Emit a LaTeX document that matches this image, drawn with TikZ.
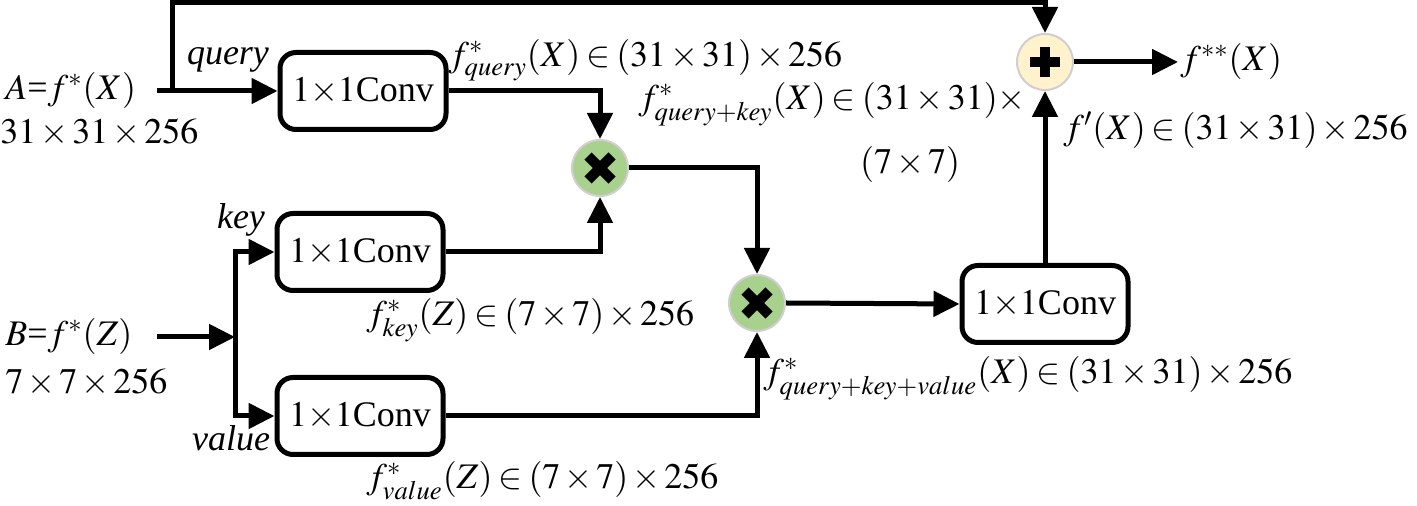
\documentclass[tikz,border=0pt]{standalone}
\usepackage{mathptmx}
\usepackage[no-math]{fontspec}
\setmainfont{Liberation Serif}
\usetikzlibrary{arrows.meta}

\definecolor{mulgreen}{RGB}{169,209,142}
\definecolor{addyellow}{RGB}{255,242,204}
\definecolor{ringgray}{RGB}{208,206,206}

\medmuskip=2mu
\thickmuskip=3mu

\tikzset{
  conv/.style={draw, line width=2.5pt, rounded corners=8pt, minimum width=83pt, minimum height=38.5pt, inner sep=0pt},
  opnode/.style={circle, draw=ringgray, line width=1pt, minimum size=28pt, inner sep=0pt},
  link/.style={line width=2.5pt},
  arr/.style={link, -{Triangle[length=13pt,width=12.5pt]}},
  sign/.style={line width=5pt},
  txt/.style={inner sep=0pt, font=\fontsize{18}{22}\selectfont}
}

\begin{document}
\begin{tikzpicture}[x=0.5pt,y=0.5pt,yscale=-1,xscale=1]
\useasboundingbox (0,0) rectangle (1417,506);

%Conv boxes
\node [conv, txt] (convq) at (363,91) {$1{\times}1$Conv};
\node [conv, txt] (convk) at (360,252) {$1{\times}1$Conv};
\node [conv, txt] (convv) at (360,416) {$1{\times}1$Conv};
\node [conv, txt] (convo) at (1045,304) {$1{\times}1$Conv};

%Operators
\node [opnode, fill=mulgreen] (mulqk) at (600,168) {};
\node [opnode, fill=mulgreen] (mulv) at (757,303) {};
\node [opnode, fill=addyellow] (add) at (1045,62) {};
\draw [sign] (mulqk.center) +(-12,-12) -- +(12,12) +(-12,12) -- +(12,-12);
\draw [sign] (mulv.center) +(-12,-12) -- +(12,12) +(-12,12) -- +(12,-12);
\draw [sign] (add.center) +(-15,0) -- +(15,0) +(0,-15) -- +(0,15);

%Free ends
\coordinate (ain) at (157,91);
\coordinate (asplit) at (172,91);
\coordinate (skip) at (1045,3);
\coordinate (bin) at (157,337);
\coordinate (bsplit) at (235,337);
\coordinate (out) at (1178,62);

%Connectors
\draw [arr] (ain) -- (convq.west);
\draw [arr] (asplit) |- (skip) -- (add.north);
\draw [arr] (convq.east) -| (mulqk.north);
\draw [arr] (convk.east) -| (mulqk.south);
\draw [arr] (mulqk.east) -| (mulv.north);
\draw [arr] (convv.east) -| (mulv.south);
\draw [arr] (mulv.east) -- (convo.west);
\draw [arr] (convo.north) -- (add.south);
\draw [arr] (add.east) -- (out);
\draw [arr] (bin) -- (bsplit);
\draw [arr] (bsplit) |- (convk.west);
\draw [arr] (bsplit) |- (convv.west);

% Text Node
\node [txt, anchor=west] (labA) at (5,91) {$A$=$f^{*}(X)$};
\node [txt, anchor=west] (dimA) at (0,133) {$31\times31\times256$};
\node [txt] (labq) at (228,60) {\textit{query}};
\node [txt, anchor=west] (featq) at (448,60) {$f^{*}_{query}(X)\in(31\times31)\times256$};
\node [txt, anchor=west] (featqk) at (638,104) {$f^{*}_{query+key}(X)\in(31\times31)\times$};
\node [txt] (featqkb) at (910,165) {$(7\times7)$};
\node [txt] (labk) at (241,220) {\textit{key}};
\node [txt, anchor=west] (labB) at (5,337) {$B$=$f^{*}(Z)$};
\node [txt, anchor=west] (dimB) at (5,383) {$7\times7\times256$};
\node [txt, anchor=west] (featk) at (366,320) {$f^{*}_{key}(Z)\in(7\times7)\times256$};
\node [txt] (labv) at (231,438) {\textit{value}};
\node [txt, anchor=west] (featv) at (366,481) {$f^{*}_{value}(Z)\in(7\times7)\times256$};
\node [txt, anchor=west] (featqkv) at (763,378) {$f^{*}_{query+key+value}(X)\in(31\times31)\times256$};
\node [txt, anchor=west] (labout) at (1180,62) {$f^{**}(X)$};
\node [txt, anchor=west] (featp) at (1063,130) {$f'(X)\in(31\times31)\times256$};

\end{tikzpicture}
\end{document}
